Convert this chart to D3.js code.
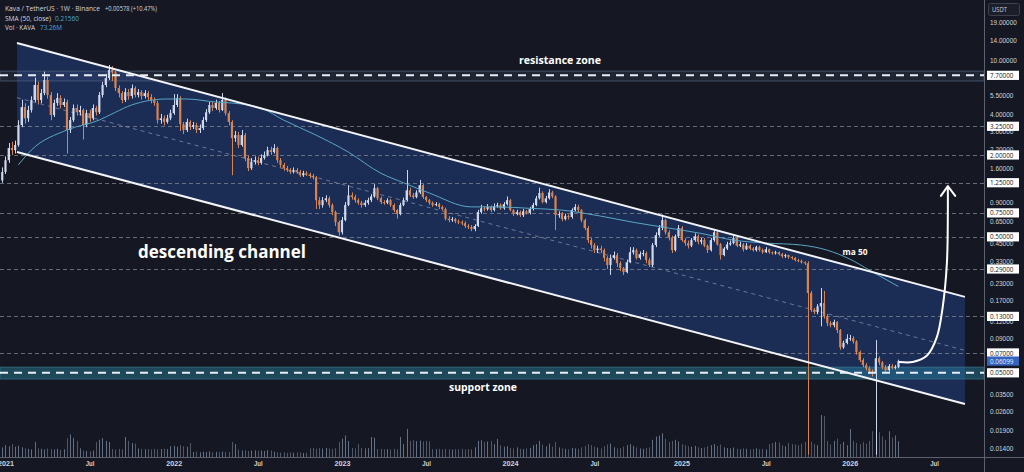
<!DOCTYPE html>
<html>
<head>
<meta charset="utf-8">
<script src="https://cdn.jsdelivr.net/npm/d3@7"></script>
<style>
  html, body { margin: 0; padding: 0; background: #151822; }
  svg { display: block; font-family: "Open Sans", "DejaVu Sans", sans-serif; }
</style>
</head>
<body>
<svg id="chart" width="1024" height="472"></svg>
<script>
// weekly KAVA/USDT candles, first bar opens 2020-12-28
const firstWeek = "2020-12-28";
const firstOpen = 1.30;

const closes = [
  1.50, 1.83, 2.25, 2.17, 2.37, 3.32, 4.50, 3.72, 4.28, 5.07,
  6.54, 5.07, 5.70, 7.11, 5.52, 3.93, 4.82, 5.25, 4.66, 4.90,
  3.05, 3.61, 4.43, 4.12, 4.28, 3.32, 4.06, 3.72, 4.43, 4.12,
  5.52, 6.54, 7.36, 8.43, 8.10, 6.20, 5.70, 5.07, 5.80, 5.42,
  6.20, 5.52, 5.80, 5.42, 5.70, 5.33, 5.07, 4.82, 3.61, 3.72,
  3.50, 3.72, 4.06, 4.66, 5.25, 3.37, 3.05, 3.50, 3.21, 3.32,
  3.05, 3.15, 3.61, 4.12, 4.66, 4.43, 4.82, 4.28, 5.07, 4.06,
  3.50, 2.66, 2.80, 2.37, 2.80, 1.90, 1.60, 1.78, 1.83, 1.75,
  1.90, 2.00, 2.17, 2.10, 2.25, 1.83, 1.69, 1.60, 1.55, 1.50,
  1.55, 1.50, 1.42, 1.47, 1.44, 1.40, 1.37, 0.93, 0.856, 0.93,
  0.96, 0.856, 0.76, 0.64, 0.54, 0.664, 0.856, 1.01, 0.98, 0.93,
  0.89, 0.856, 0.89, 0.93, 0.99, 1.14, 0.96, 0.90, 0.89, 0.93,
  0.856, 0.786, 0.735, 0.856, 0.93, 1.10, 1.01, 0.98, 1.06, 1.20,
  0.98, 0.93, 0.89, 0.856, 0.87, 0.83, 0.80, 0.68, 0.664, 0.675,
  0.65, 0.64, 0.63, 0.60, 0.59, 0.57, 0.60, 0.76, 0.81, 0.80,
  0.83, 0.786, 0.84, 0.856, 0.81, 0.87, 0.93, 0.786, 0.735, 0.76,
  0.722, 0.77, 0.75, 0.80, 0.856, 0.96, 1.05, 0.90, 0.96, 1.06,
  0.99, 0.722, 0.735, 0.675, 0.71, 0.70, 0.786, 0.83, 0.786, 0.664,
  0.58, 0.473, 0.435, 0.399, 0.41, 0.399, 0.35, 0.31, 0.35, 0.367,
  0.32, 0.295, 0.275, 0.325, 0.385, 0.399, 0.35, 0.373, 0.38, 0.337,
  0.31, 0.435, 0.515, 0.58, 0.664, 0.54, 0.495, 0.399, 0.505, 0.58,
  0.473, 0.45, 0.43, 0.473, 0.505, 0.46, 0.473, 0.43, 0.399, 0.473,
  0.54, 0.44, 0.367, 0.41, 0.44, 0.45, 0.49, 0.43, 0.44, 0.405,
  0.43, 0.41, 0.399, 0.42, 0.399, 0.385, 0.405, 0.385, 0.38, 0.385,
  0.373, 0.36, 0.367, 0.355, 0.35, 0.337, 0.332, 0.325, 0.32, 0.193,
  0.145, 0.14, 0.154, 0.163, 0.13, 0.116, 0.112, 0.118, 0.103, 0.077,
  0.083, 0.089, 0.09, 0.085, 0.071, 0.062, 0.057, 0.054, 0.051, 0.050,
  0.064, 0.0596, 0.055, 0.0523, 0.056, 0.0545, 0.05521, 0.06099
];

const highs = [
  1.62, 1.95, 2.45, 2.50, 2.55, 3.60, 5.10, 4.80, 4.60, 5.40,
  7.40, 6.90, 6.10, 8.20, 7.50, 5.80, 5.10, 5.70, 5.50, 5.20,
  5.10, 3.80, 4.70, 4.70, 4.60, 4.40, 4.30, 4.30, 4.70, 4.60,
  5.80, 6.90, 7.90, 9.17, 9.00, 8.30, 6.50, 5.90, 6.20, 6.10,
  6.60, 6.40, 6.10, 6.00, 6.00, 5.90, 5.60, 5.30, 5.00, 4.00,
  3.90, 3.95, 4.30, 5.60, 5.60, 5.40, 3.50, 3.70, 3.60, 3.50,
  3.45, 3.35, 3.80, 4.35, 4.90, 4.90, 5.10, 5.00, 5.70, 5.30,
  4.20, 3.60, 3.00, 2.95, 3.05, 2.90, 1.98, 1.90, 1.95, 1.95,
  2.02, 2.12, 2.30, 2.30, 2.40, 2.30, 1.90, 1.75, 1.66, 1.60,
  1.62, 1.60, 1.55, 1.53, 1.52, 1.48, 1.45, 1.40, 0.98, 0.98,
  1.01, 0.99, 0.88, 0.78, 0.66, 0.70, 0.90, 1.20, 1.06, 1.02,
  0.96, 0.92, 0.93, 0.97, 1.03, 1.22, 1.16, 0.99, 0.93, 0.96,
  0.95, 0.88, 0.80, 0.89, 0.97, 1.55, 1.15, 1.05, 1.10, 1.31,
  1.22, 1.00, 0.95, 0.91, 0.90, 0.89, 0.85, 0.82, 0.71, 0.70,
  0.69, 0.67, 0.66, 0.65, 0.62, 0.61, 0.62, 0.79, 0.86, 0.84,
  0.87, 0.85, 0.88, 0.89, 0.88, 0.90, 0.99, 0.95, 0.80, 0.79,
  0.78, 0.80, 0.79, 0.83, 0.89, 1.00, 1.15, 1.08, 1.00, 1.12,
  1.09, 1.01, 0.77, 0.76, 0.74, 0.73, 0.81, 0.87, 0.86, 0.80,
  0.68, 0.60, 0.49, 0.45, 0.43, 0.43, 0.41, 0.36, 0.37, 0.39,
  0.38, 0.33, 0.30, 0.34, 0.42, 0.42, 0.41, 0.39, 0.40, 0.39,
  0.35, 0.45, 0.54, 0.61, 0.73, 0.68, 0.56, 0.51, 0.52, 0.61,
  0.60, 0.49, 0.47, 0.49, 0.53, 0.52, 0.49, 0.49, 0.44, 0.49,
  0.57, 0.55, 0.45, 0.42, 0.46, 0.47, 0.51, 0.50, 0.46, 0.45,
  0.45, 0.44, 0.42, 0.43, 0.43, 0.41, 0.42, 0.41, 0.39, 0.395,
  0.39, 0.38, 0.375, 0.37, 0.36, 0.355, 0.345, 0.34, 0.33, 0.33,
  0.20, 0.15, 0.16, 0.21, 0.20, 0.135, 0.12, 0.123, 0.12, 0.105,
  0.086, 0.096, 0.095, 0.093, 0.087, 0.073, 0.064, 0.059, 0.056, 0.053,
  0.087, 0.066, 0.061, 0.057, 0.058, 0.058, 0.057, 0.0625
];

const lows = [
  1.25, 1.45, 1.75, 2.00, 2.05, 2.30, 3.20, 3.40, 3.50, 4.10,
  4.90, 4.70, 4.80, 5.50, 5.20, 3.60, 3.80, 4.60, 4.40, 4.50,
  2.05, 2.90, 3.50, 3.90, 3.90, 2.60, 3.20, 3.50, 3.60, 3.90,
  4.00, 5.30, 6.30, 7.10, 7.00, 5.90, 5.30, 4.80, 4.90, 5.10,
  5.20, 5.30, 5.30, 5.10, 5.20, 5.00, 4.80, 4.60, 3.40, 3.40,
  3.30, 3.40, 3.60, 3.95, 4.50, 3.00, 2.85, 2.95, 3.05, 3.10,
  2.90, 2.90, 3.05, 3.50, 4.00, 4.20, 4.30, 4.10, 4.20, 3.90,
  3.30, 1.42, 2.50, 2.25, 2.30, 1.80, 1.52, 1.55, 1.70, 1.68,
  1.70, 1.85, 1.95, 2.00, 2.05, 1.75, 1.62, 1.53, 1.50, 1.45,
  1.46, 1.45, 1.38, 1.38, 1.40, 1.35, 1.32, 0.80, 0.80, 0.82,
  0.90, 0.82, 0.72, 0.60, 0.51, 0.52, 0.65, 0.84, 0.94, 0.89,
  0.86, 0.82, 0.83, 0.86, 0.90, 0.97, 0.93, 0.87, 0.86, 0.87,
  0.83, 0.76, 0.68, 0.72, 0.84, 0.91, 0.98, 0.95, 0.96, 1.03,
  0.95, 0.90, 0.86, 0.83, 0.84, 0.80, 0.78, 0.66, 0.64, 0.645,
  0.63, 0.62, 0.61, 0.58, 0.57, 0.55, 0.55, 0.59, 0.74, 0.77,
  0.78, 0.76, 0.77, 0.82, 0.79, 0.79, 0.85, 0.77, 0.71, 0.72,
  0.70, 0.70, 0.73, 0.73, 0.78, 0.84, 0.94, 0.88, 0.88, 0.94,
  0.96, 0.56, 0.69, 0.65, 0.66, 0.67, 0.68, 0.77, 0.76, 0.64,
  0.56, 0.45, 0.41, 0.38, 0.38, 0.38, 0.33, 0.29, 0.262, 0.34,
  0.30, 0.28, 0.262, 0.27, 0.32, 0.37, 0.34, 0.34, 0.36, 0.32,
  0.30, 0.30, 0.42, 0.50, 0.56, 0.52, 0.47, 0.38, 0.39, 0.49,
  0.46, 0.43, 0.41, 0.42, 0.46, 0.44, 0.44, 0.42, 0.38, 0.39,
  0.46, 0.43, 0.34, 0.36, 0.40, 0.43, 0.44, 0.42, 0.42, 0.39,
  0.40, 0.40, 0.39, 0.39, 0.39, 0.375, 0.38, 0.375, 0.37, 0.37,
  0.365, 0.35, 0.35, 0.345, 0.34, 0.33, 0.325, 0.318, 0.31, 0.0125,
  0.14, 0.135, 0.135, 0.11, 0.125, 0.11, 0.108, 0.108, 0.098, 0.074,
  0.075, 0.081, 0.086, 0.082, 0.068, 0.060, 0.055, 0.052, 0.049, 0.047,
  0.0125, 0.057, 0.053, 0.050, 0.051, 0.053, 0.053, 0.054
];

// weekly volume, millions of KAVA
const volumes = [
  45, 55, 50, 60, 48, 52, 45, 40, 38, 35,
  70, 40, 38, 35, 40, 37, 35, 38, 33, 36,
  88, 105, 88, 75, 40, 30, 28, 27, 30, 70,
  80, 88, 75, 70, 37, 35, 38, 36, 93, 75,
  65, 62, 40, 38, 36, 37, 35, 38, 36, 37,
  39, 37, 50, 52, 48, 55, 50, 47, 65, 23,
  25, 22, 24, 23, 26, 22, 24, 23, 25, 24,
  23, 70, 60, 35, 30, 32, 28, 30, 31, 29,
  30, 28, 32, 30, 25, 21, 20, 22, 19, 21,
  20, 22, 21, 19, 20, 40, 42, 38, 41, 39,
  42, 40, 38, 41, 70, 85, 100, 75, 42, 40,
  60, 42, 40, 41, 93, 90, 37, 38, 36, 37,
  35, 38, 36, 93, 60, 130, 75, 78, 74, 76,
  72, 75, 73, 37, 36, 38, 35, 37, 36, 34,
  37, 36, 38, 35, 37, 36, 45, 75, 78, 70,
  72, 75, 60, 84, 55, 48, 50, 42, 40, 45,
  38, 36, 40, 42, 55, 60, 75, 58, 50, 62,
  48, 70, 45, 40, 38, 36, 42, 40, 38, 45,
  52, 60, 55, 48, 44, 40, 50, 58, 62, 45,
  40, 42, 48, 55, 60, 52, 45, 40, 38, 42,
  45, 80, 95, 100, 110, 85, 70, 75, 80, 72,
  60, 55, 50, 48, 52, 45, 42, 44, 50, 55,
  60, 52, 58, 45, 42, 40, 44, 38, 36, 40,
  38, 35, 37, 40, 36, 38, 35, 60, 65, 70,
  68, 55, 50, 65, 60, 58, 55, 62, 70, 95,
  70, 60, 55, 195, 190, 75, 58, 75, 85, 60,
  70, 55, 130, 75, 65, 60, 70, 62, 75, 120,
  125, 115, 95, 80, 120, 90, 100, 73.26
];

// SMA(50), by candle index
const maWeeks = [5, 9, 20, 30, 35, 40, 51, 57, 66, 71, 80, 87, 97, 107, 117, 124, 132,
  145, 153, 163, 173, 185, 195, 206, 216, 226, 236, 247, 255, 262, 268, 277];
const maValues = [1.69, 2.17, 3.05, 3.61, 4.12, 4.66, 5.16, 5.16, 4.90, 4.82, 4.43, 3.61, 2.80,
  2.10, 1.47, 1.25, 1.05, 0.83, 0.83, 0.81, 0.786, 0.71, 0.64, 0.58, 0.53, 0.473, 0.45, 0.435,
  0.399, 0.343, 0.285, 0.2156];

// right-hand price scale
const priceTicks = [19, 14, 10, 5.5, 4, 3.0, 2.2, 1.6, 0.9, 0.65, 0.45, 0.33, 0.23, 0.17, 0.12,
  0.09, 0.035, 0.026, 0.019, 0.014];
const levelPrices = [3.25, 2.0, 1.25, 0.75, 0.5, 0.29, 0.13, 0.07];
const zoneLines = [7.7, 0.05];
const lastPrice = 0.06099;
const resistanceZone = [7.0, 8.27];
const supportZone = [0.045, 0.0551];

// time scale labels
const timeTicks = ["2021-01-04", "2021-07-05", "2022-01-03", "2022-07-04", "2023-01-02",
  "2023-07-03", "2024-01-01", "2024-07-01", "2025-01-06", "2025-07-07", "2026-01-05", "2026-07-06"];
const timeLabels = ["2021", "Jul", "2022", "Jul", "2023", "Jul", "2024", "Jul", "2025", "Jul", "2026", "Jul"];

// drawn annotations, [date, price]
const channelUpper = [["2021-01-29", 13.3], ["2026-09-11", 0.181]];
const channelLower = [["2021-01-29", 2.10], ["2026-09-11", 0.0295]];
const channelMid = [["2021-01-29", 5.28], ["2026-09-11", 0.0731]];
const arrowPath = [["2026-04-23", 0.060], ["2026-05-21", 0.060], ["2026-06-21", 0.067],
  ["2026-07-12", 0.091], ["2026-07-25", 0.153], ["2026-08-03", 0.323], ["2026-08-05", 0.754],
  ["2026-08-05", 1.16]];
const arrowHead = [["2026-07-21", 1.0], ["2026-08-05", 1.18], ["2026-08-21", 1.0]];

const width = 1024, height = 472;
const plotRight = 984, plotBottom = 457;
const parse = d3.utcParse("%Y-%m-%d");

const x = d3.scaleUtc()
  .domain([parse("2021-01-01"), parse("2026-01-01")])
  .range([4, 848]);
const y = d3.scaleLog().domain([19, 0.014]).range([22, 448]);
const vScale = d3.scaleLinear().domain([0, 200]).range([0, 43]);

const start = parse(firstWeek);
const candles = closes.map((c, i) => ({
  date: d3.utcDay.offset(start, 7 * i),
  open: i === 0 ? firstOpen : closes[i - 1],
  close: c,
  high: highs[i],
  low: lows[i],
  volume: volumes[i],
}));
const ma = maWeeks.map((w, i) => ({ date: candles[w].date, value: maValues[i] }));

const upColor = "#cdd8ec";
const downColor = "#d9844e";

const svg = d3.select("#chart");
svg.append("rect").attr("width", width).attr("height", height).attr("fill", "#151822");

svg.append("defs").append("clipPath").attr("id", "plot")
  .append("rect").attr("width", plotRight).attr("height", plotBottom);

const plot = svg.append("g").attr("clip-path", "url(#plot)");

const pt = (d) => [x(parse(d[0])), y(d[1])];

// channel fill
plot.append("path")
  .attr("d", d3.line()([...channelUpper.map(pt), ...channelLower.map(pt).reverse()]) + "Z")
  .attr("fill", "#1b2d58")
  .attr("opacity", 0.95);

// zones
plot.append("rect")
  .attr("x", 0).attr("width", plotRight)
  .attr("y", y(resistanceZone[1]))
  .attr("height", y(resistanceZone[0]) - y(resistanceZone[1]))
  .attr("fill", "rgba(110,130,170,0.13)")
  .attr("stroke", "#4b5a78").attr("stroke-width", 0.8);
plot.append("rect")
  .attr("x", 0).attr("width", plotRight)
  .attr("y", y(supportZone[1]))
  .attr("height", y(supportZone[0]) - y(supportZone[1]))
  .attr("fill", "rgba(40,140,170,0.42)")
  .attr("stroke", "#3f7f95").attr("stroke-width", 0.6);

// grey dashed levels
plot.selectAll("line.level")
  .data(levelPrices)
  .join("line")
  .attr("class", "level")
  .attr("x1", 0).attr("x2", plotRight)
  .attr("y1", (d) => Math.round(y(d)) + 0.5)
  .attr("y2", (d) => Math.round(y(d)) + 0.5)
  .attr("stroke", "#7c818d")
  .attr("stroke-width", 0.8)
  .attr("stroke-dasharray", "4 3");

// channel midline
plot.append("path")
  .attr("d", d3.line()(channelMid.map(pt)))
  .attr("stroke", "#7f8aa3").attr("stroke-width", 0.8)
  .attr("stroke-dasharray", "4 4").attr("fill", "none");

// volume
plot.selectAll("line.vol")
  .data(candles)
  .join("line")
  .attr("class", "vol")
  .attr("x1", (d) => Math.round(x(d.date)) + 0.5)
  .attr("x2", (d) => Math.round(x(d.date)) + 0.5)
  .attr("y1", plotBottom)
  .attr("y2", (d) => plotBottom - vScale(d.volume))
  .attr("stroke", (d) => (d.close >= d.open ? "rgba(160,185,215,0.55)" : "rgba(120,132,150,0.6)"))
  .attr("stroke-width", 1);

// candles
const cg = plot.selectAll("g.candle")
  .data(candles)
  .join("g")
  .attr("class", "candle");
cg.append("line")
  .attr("x1", (d) => Math.round(x(d.date)) + 0.5)
  .attr("x2", (d) => Math.round(x(d.date)) + 0.5)
  .attr("y1", (d) => y(d.high))
  .attr("y2", (d) => y(d.low))
  .attr("stroke", (d) => (d.close >= d.open ? upColor : downColor))
  .attr("stroke-width", 1);
cg.append("rect")
  .attr("x", (d) => x(d.date) - 1)
  .attr("width", 2.2)
  .attr("y", (d) => y(Math.max(d.open, d.close)))
  .attr("height", (d) => Math.max(1, Math.abs(y(d.open) - y(d.close))))
  .attr("fill", (d) => (d.close >= d.open ? upColor : downColor));

// SMA 50
plot.append("path")
  .datum(ma)
  .attr("d", d3.line().x((d) => x(d.date)).y((d) => y(d.value)).curve(d3.curveMonotoneX))
  .attr("fill", "none")
  .attr("stroke", "#5aa7c4")
  .attr("stroke-width", 1);

// channel borders
[channelUpper, channelLower].forEach((c) =>
  plot.append("path")
    .attr("d", d3.line()(c.map(pt)))
    .attr("stroke", "#f2f4f8").attr("stroke-width", 2).attr("fill", "none")
);

// zone dashed lines
plot.selectAll("line.zone")
  .data(zoneLines)
  .join("line")
  .attr("class", "zone")
  .attr("x1", 0).attr("x2", plotRight)
  .attr("y1", (d) => y(d)).attr("y2", (d) => y(d))
  .attr("stroke", "#e8ecf4").attr("stroke-width", 2)
  .attr("stroke-dasharray", "8 6");

// arrow
plot.append("path")
  .attr("d", d3.line().curve(d3.curveCatmullRom)(arrowPath.map(pt)))
  .attr("stroke", "#ffffff").attr("stroke-width", 2).attr("fill", "none")
  .attr("stroke-linecap", "round");
plot.append("path")
  .attr("d", d3.line()(arrowHead.map(pt)))
  .attr("stroke", "#ffffff").attr("stroke-width", 2).attr("fill", "none")
  .attr("stroke-linecap", "round").attr("stroke-linejoin", "round");

// annotation texts
const note = (txt, cx, by, size, len) =>
  svg.append("text")
    .attr("x", cx).attr("y", by)
    .attr("text-anchor", "middle")
    .attr("font-size", size).attr("font-weight", 700)
    .attr("fill", "#ffffff")
    .attr("textLength", len).attr("lengthAdjust", "spacingAndGlyphs")
    .text(txt);
note("descending channel", 222, 258, 18, 168);
note("resistance zone", 560, 64, 10, 82);
note("support zone", 483, 391, 10, 68);
note("ma 50", 855, 255, 9, 25);

// frame lines
svg.append("line").attr("x1", 0).attr("x2", width).attr("y1", plotBottom + 0.5).attr("y2", plotBottom + 0.5)
  .attr("stroke", "#5d616c");
svg.append("line").attr("x1", plotRight + 0.5).attr("x2", plotRight + 0.5).attr("y1", 0).attr("y2", height)
  .attr("stroke", "#5d616c");

// price axis
const fmt = d3.format(".5f");
const yAxis = svg.append("g")
  .attr("transform", "translate(990,0)")
  .call(d3.axisRight(y).tickValues(priceTicks).tickFormat(fmt).tickSize(0).tickPadding(0));
yAxis.select(".domain").remove();
yAxis.selectAll("text")
  .attr("fill", "#d1d4dc")
  .attr("font-size", 7.5)
  .attr("textLength", (d) => fmt(d).length * 3.35)
  .attr("lengthAdjust", "spacingAndGlyphs");

const boxes = svg.selectAll("g.pbox")
  .data([...zoneLines.slice(0, 1), ...levelPrices, zoneLines[1]])
  .join("g")
  .attr("class", "pbox")
  .attr("transform", (d) => `translate(987,${y(d)})`);
boxes.append("rect")
  .attr("x", 0).attr("y", -4.6).attr("width", 32).attr("height", 9.2)
  .attr("fill", "#ffffff");
boxes.append("text")
  .attr("x", 3).attr("dy", "0.34em")
  .attr("font-size", 7.5).attr("fill", "#131722")
  .attr("textLength", (d) => fmt(d).length * 3.35)
  .attr("lengthAdjust", "spacingAndGlyphs")
  .text(fmt);

const lastBox = svg.append("g").attr("transform", `translate(987,${y(lastPrice)})`);
lastBox.append("rect").attr("x", 0).attr("y", -4.6).attr("width", 32).attr("height", 9.2)
  .attr("fill", "#3463c0");
lastBox.append("text").attr("x", 3).attr("dy", "0.34em")
  .attr("font-size", 7.5).attr("fill", "#e6ecf8")
  .attr("textLength", 7 * 3.35).attr("lengthAdjust", "spacingAndGlyphs")
  .text(fmt(lastPrice));

// currency box
svg.append("rect").attr("x", 988.5).attr("y", 3.5).attr("width", 31).attr("height", 12).attr("rx", 2)
  .attr("fill", "#1c1f2a").attr("stroke", "#3d414d");
svg.append("text").attr("x", 992).attr("y", 12).attr("font-size", 7).attr("fill", "#c9ccd4")
  .attr("textLength", 15).attr("lengthAdjust", "spacingAndGlyphs").text("USDT");

// time axis
const xAxis = svg.append("g")
  .attr("transform", `translate(0,${plotBottom + 2})`)
  .call(d3.axisBottom(x).tickValues(timeTicks.map(parse))
    .tickFormat((d, i) => timeLabels[i]).tickSize(0).tickPadding(2));
xAxis.select(".domain").remove();
xAxis.selectAll("text")
  .attr("fill", "#d1d4dc")
  .attr("font-size", 7.5)
  .attr("font-weight", 600)
  .attr("textLength", (d, i) => timeLabels[i].length * (timeLabels[i] === "Jul" ? 2.9 : 4))
  .attr("lengthAdjust", "spacingAndGlyphs");

// legend header
const head = (txt, x0, by, len, color) =>
  svg.append("text")
    .attr("x", x0).attr("y", by)
    .attr("font-size", 7.5).attr("fill", color)
    .attr("textLength", len).attr("lengthAdjust", "spacingAndGlyphs")
    .text(txt);
head("Kava / TetherUS · 1W · Binance", 5, 10.5, 95, "#d1d4dc");
head("+0.00578 (+10.47%)", 105, 10.5, 52, "#d1d4dc");
head("SMA (50, close)", 5, 20.5, 46, "#d1d4dc");
head("0.21560", 55, 20.5, 24, "#4fa6d6");
head("Vol · KAVA", 5, 29.5, 30, "#d1d4dc");
head("73.26M", 40, 29.5, 22, "#4fa6d6");
</script>
</body>
</html>
